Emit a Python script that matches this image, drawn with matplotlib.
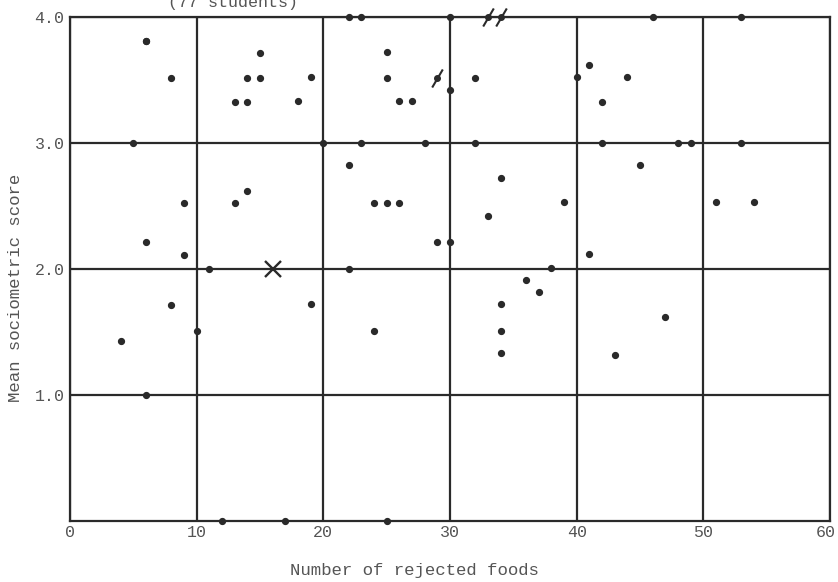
import matplotlib.pyplot as plt
import matplotlib.transforms as mtransforms
import numpy as np

plt.rcParams['font.family'] = ['Liberation Mono', 'DejaVu Sans Mono']

# puntos (alimentos rechazados, puntaje sociometrico medio)
rechazados = [22, 23, 30, 46, 53,
              6, 6,
              8, 14, 15, 19, 25, 32, 40, 44,
              15, 25, 41, 30,
              13, 14, 18, 26, 27, 42,
              5, 20, 23, 28, 32, 42, 48, 49, 53,
              22, 45, 34, 14,
              9, 13, 24, 25, 26, 39, 51, 54,
              33, 6, 29, 30, 9, 41,
              11, 22, 38, 36, 37,
              8, 19, 34, 47, 10, 24, 34, 4, 34, 43, 6,
              12, 17, 25]
puntaje = [4.0, 4.0, 4.0, 4.0, 4.0,
           3.81, 3.81,
           3.51, 3.51, 3.51, 3.52, 3.51, 3.51, 3.52, 3.52,
           3.71, 3.72, 3.62, 3.42,
           3.32, 3.32, 3.33, 3.33, 3.33, 3.32,
           3.0, 3.0, 3.0, 3.0, 3.0, 3.0, 3.0, 3.0, 3.0,
           2.82, 2.82, 2.72, 2.62,
           2.52, 2.52, 2.52, 2.52, 2.52, 2.53, 2.53, 2.53,
           2.42, 2.21, 2.21, 2.21, 2.11, 2.12,
           2.0, 2.0, 2.01, 1.91, 1.82,
           1.71, 1.72, 1.72, 1.62, 1.51, 1.51, 1.51, 1.43, 1.33, 1.32, 1.0,
           0.0, 0.0, 0.0]

# puntos marcados con una barra
barraX = [29, 33, 34]
barraY = [3.51, 4.0, 4.0]

# punto marcado con una cruz
cruzX = [16]
cruzY = [2.0]

colorTinta = '#2a2a2a'
colorTexto = '#555555'

fig = plt.figure(figsize=(8.38, 5.82), dpi=100)
ax = fig.add_axes([70 / 838, 1 - 521 / 582, 760 / 838, 504.3 / 582])

ax.set_xlim(0, 60)
ax.set_ylim(0, 4)
ax.set_xticks(np.arange(0, 61, 10))
ax.set_yticks([1, 2, 3, 4])
ax.set_yticklabels(['1.0', '2.0', '3.0', '4.0'])
ax.grid(True, color=colorTinta, linewidth=1.6)
ax.set_axisbelow(True)
for lado in ax.spines.values():
    lado.set_color(colorTinta)
    lado.set_linewidth(1.6)
ax.tick_params(length=0, pad=4, colors=colorTexto, labelsize=12)
ax.tick_params(axis='x', pad=3)

# el "60" se corre un poco a la izquierda para que no se corte
ultima = ax.get_xticklabels()[-1]
ultima.set_transform(ultima.get_transform() + mtransforms.ScaledTranslation(-4 / 100, 0, fig.dpi_scale_trans))

ax.plot(rechazados, puntaje, 'o', color=colorTinta, markersize=4.2, clip_on=False)
ax.plot(barraX, barraY, 'o', color=colorTinta, markersize=4, clip_on=False)
ax.plot(barraX, barraY, linestyle='none', marker=[(-1, -1.7), (1, 1.7)],
        color=colorTinta, markersize=13, markeredgewidth=1.5, clip_on=False)
ax.plot(cruzX, cruzY, 'x', color=colorTinta, markersize=11, markeredgewidth=1.7, clip_on=False)

ax.set_xlabel('Number of rejected foods', color=colorTexto, fontsize=12.5)
ax.xaxis.set_label_coords((414 - 70) / 760, -(571 - 521) / 504.3)
ax.xaxis.label.set_va('center')
ax.set_ylabel('Mean sociometric score', color=colorTexto, fontsize=12.5)
ax.yaxis.set_label_coords(-(70 - 15) / 760, (521 - 288) / 504.3)
ax.yaxis.label.set_va('center')

fig.text(233 / 838, 1 - 2 / 582, '(77 students)', ha='center', va='center',
         color=colorTexto, fontsize=12)

fig.savefig('out.png', dpi=100)
